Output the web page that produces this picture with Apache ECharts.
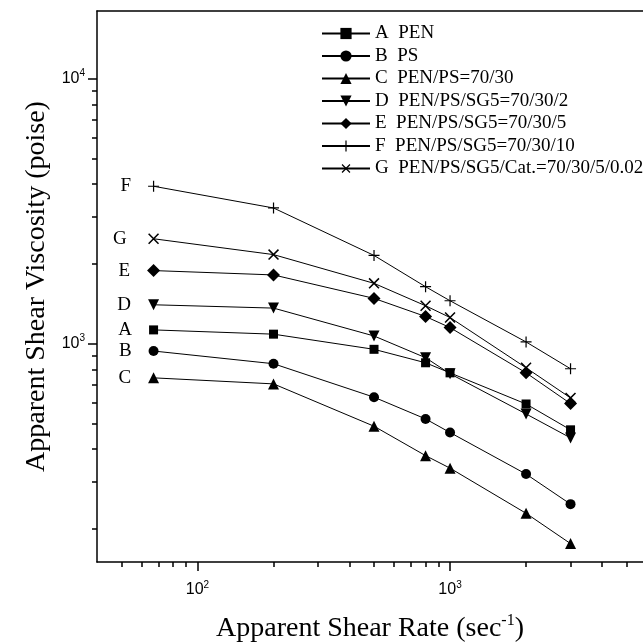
<!DOCTYPE html>
<html>
<head>
<meta charset="utf-8">
<script src="https://cdn.jsdelivr.net/npm/echarts@6/dist/echarts.min.js"></script>
<style>
  html, body { margin: 0; padding: 0; background: #fff; }
  #chart { width: 643px; height: 642px; }
</style>
</head>
<body>
<div id="chart"></div>
<script>
// 剪切速率 (sec^-1)
const shearRate = [67, 200, 500, 800, 1000, 2000, 3000];
// 各样品的表观剪切粘度 (poise)
const penA = [1127, 1086, 952, 847, 776, 592, 473];
const psB = [938, 840, 628, 520, 462, 322, 248];
const blendC = [743, 705, 488, 378, 339, 229, 176];
const sg2D = [1402, 1362, 1069, 885, 770, 543, 441];
const sg5E = [1887, 1817, 1482, 1266, 1150, 776, 594];
const sg10F = [3926, 3251, 2152, 1640, 1452, 1015, 804];
const catG = [2488, 2168, 1689, 1390, 1255, 811, 624];

// 刻度位置
const xMajorTicks = [100, 1000];
const xMinorTicks = [50, 60, 70, 80, 90, 200, 300, 400, 500, 600, 700, 800, 900, 2000, 3000, 4000, 5000];
const yMajorTicks = [1000, 10000];
const yMinorTicks = [200, 300, 400, 500, 600, 700, 800, 900, 2000, 3000, 4000, 5000, 6000, 7000, 8000, 9000];

const letters = ['A', 'B', 'C', 'D', 'E', 'F', 'G'];
const names = [
  'A  PEN',
  'B  PS',
  'C  PEN/PS=70/30',
  'D  PEN/PS/SG5=70/30/2',
  'E  PEN/PS/SG5=70/30/5',
  'F  PEN/PS/SG5=70/30/10',
  'G  PEN/PS/SG5/Cat.=70/30/5/0.02'
];
const values = [penA, psB, blendC, sg2D, sg5E, sg10F, catG];

const serif = 'Liberation Serif';
const sans = 'Liberation Sans';
const plusPath = 'path://M0,4.45H10V5.55H0Z M4.45,0H5.55V10H4.45Z';

// 每条曲线的标记样式
const markers = [
  { symbol: 'rect', size: 9, rotate: 0 },
  { symbol: 'circle', size: 10, rotate: 0 },
  { symbol: 'triangle', size: 11, rotate: 0 },
  { symbol: 'triangle', size: 11, rotate: 180 },
  { symbol: 'diamond', size: 13, rotate: 0 },
  { symbol: plusPath, size: 11, rotate: 0 },
  { symbol: plusPath, size: 14, rotate: 45 }
];

const xMin = 40, xMax = 5808; // 原图右侧被裁掉
const yMin = 150, yMax = 18000;

function powLabel(v) {
  const e = Math.round(Math.log10(v));
  return '10{sup|' + e + '}';
}

const tickRich = {
  sup: { fontSize: 10, fontFamily: sans, color: '#000', padding: [0, 0, 10, 0] }
};

function makeSeries(i) {
  const m = markers[i];
  const data = shearRate.map((x, j) => {
    const item = { value: [x, values[i][j]] };
    if (j === 0) {
      item.label = {
        show: true,
        position: 'left',
        distance: 17,
        formatter: letters[i],
        fontFamily: serif,
        fontSize: 19,
        color: '#000'
      };
    }
    return item;
  });
  return {
    name: names[i],
    type: 'line',
    data: data,
    symbol: m.symbol,
    symbolSize: m.size,
    symbolRotate: m.rotate,
    symbolKeepAspect: true,
    showAllSymbol: true,
    lineStyle: { color: '#000', width: 1 },
    itemStyle: { color: '#000' },
    emphasis: { disabled: true },
    animation: false
  };
}

// 只画次刻度的辅助坐标轴
function minorAxis(pos, min, max, ticks, len) {
  return {
    type: 'log',
    position: pos,
    min: min,
    max: max,
    axisLine: { show: false },
    axisTick: { show: true, customValues: ticks, length: len, lineStyle: { color: '#000', width: 1.5 } },
    axisLabel: { show: false },
    splitLine: { show: false }
  };
}

const myChart = echarts.init(document.getElementById('chart'));

const option = {
  backgroundColor: '#fff',
  animation: false,
  grid: {
    left: 97,
    top: 11,
    right: 0,
    bottom: 80,
    show: false,
    outerBoundsMode: 'none'
  },
  legend: {
    orient: 'vertical',
    left: 316,
    top: 19,
    itemWidth: 48,
    itemHeight: 14,
    itemGap: 3.5,
    data: names,
    textStyle: { fontFamily: serif, fontSize: 19, color: '#000', lineHeight: 19 }
  },
  xAxis: [
    {
      type: 'log',
      position: 'bottom',
      min: xMin,
      max: xMax,
      name: 'Apparent Shear Rate (sec{sup|-1})',
      nameLocation: 'middle',
      nameGap: 51,
      nameTextStyle: {
        fontFamily: serif,
        fontSize: 28,
        color: '#000',
        rich: { sup: { fontFamily: serif, fontSize: 16, color: '#000', padding: [0, 0, 16, 0] } }
      },
      axisLine: { lineStyle: { color: '#000', width: 1.5 } },
      axisTick: { customValues: xMajorTicks, length: 9, lineStyle: { color: '#000', width: 1.5 } },
      splitLine: { show: false },
      axisLabel: {
        customValues: xMajorTicks,
        formatter: powLabel,
        margin: 18,
        fontFamily: sans,
        fontSize: 16,
        color: '#000',
        rich: tickRich
      }
    },
    {
      type: 'log',
      position: 'top',
      min: xMin,
      max: xMax,
      axisLine: { show: true, lineStyle: { color: '#000', width: 1.5 } },
      axisTick: { show: false },
      axisLabel: { show: false },
      splitLine: { show: false }
    },
    minorAxis('bottom', xMin, xMax, xMinorTicks, 5)
  ],
  yAxis: [
    {
      type: 'log',
      position: 'left',
      min: yMin,
      max: yMax,
      name: 'Apparent Shear Viscosity (poise)',
      nameLocation: 'middle',
      nameGap: 40,
      nameTextStyle: { fontFamily: serif, fontSize: 28, color: '#000' },
      axisLine: { lineStyle: { color: '#000', width: 1.5 } },
      axisTick: { customValues: yMajorTicks, length: 9, lineStyle: { color: '#000', width: 1.5 } },
      splitLine: { show: false },
      axisLabel: {
        customValues: yMajorTicks,
        formatter: powLabel,
        margin: 12,
        fontFamily: sans,
        fontSize: 16,
        color: '#000',
        rich: tickRich
      }
    },
    minorAxis('left', yMin, yMax, yMinorTicks, 5)
  ],
  series: values.map((v, i) => makeSeries(i))
};

myChart.setOption(option);
</script>
</body>
</html>
